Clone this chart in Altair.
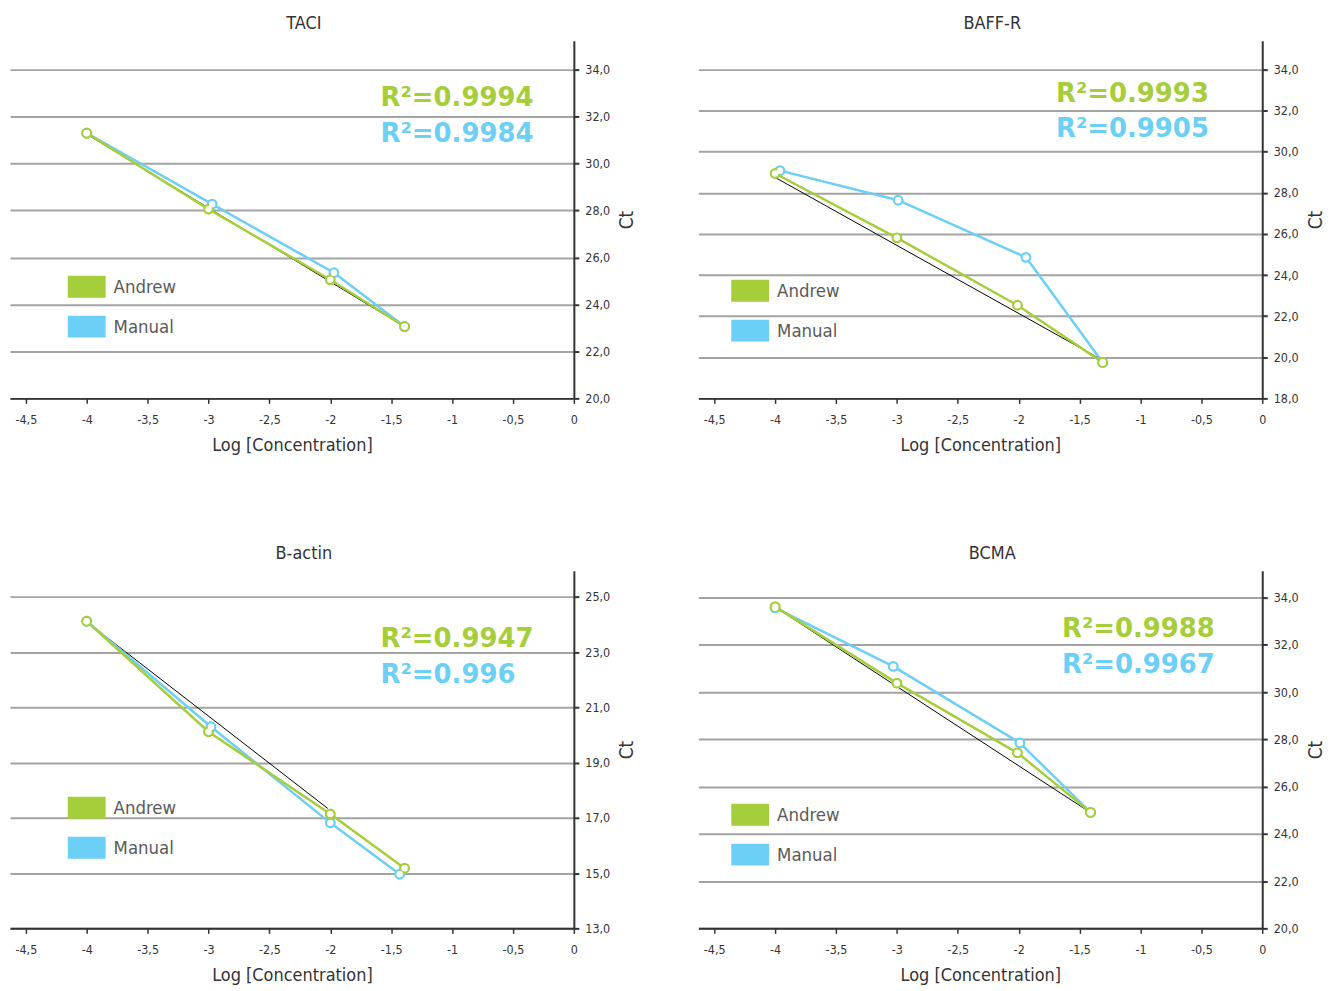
import altair as alt
import pandas as pd

GREEN = "#a6cd3a"
BLUE = "#6ccff6"
FONT = "DejaVu Sans Condensed, sans-serif"
R2FONT = "DejaVu Sans"

series_names = ["Andrew", "Manual"]
x_ticks = [-4.5, -4, -3.5, -3, -2.5, -2, -1.5, -1, -0.5, 0]

# ---- TACI ----
taci_andrew_x = [-4.0, -3.0, -2.0, -1.39]
taci_andrew_y = [31.29, 28.06, 25.05, 23.06]
taci_manual_x = [-4.0, -2.97, -1.97, -1.39]
taci_manual_y = [31.30, 28.27, 25.35, 23.06]
taci_fit_x = [-4.0, -1.39]
taci_fit_y = [31.25, 23.05]
taci_y_ticks = [20, 22, 24, 26, 28, 30, 32, 34]
taci_r2 = ["R²=0.9994", "R²=0.9984"]

# ---- BAFF-R ----
baff_andrew_x = [-4.0, -3.0, -2.01, -1.31]
baff_andrew_y = [28.94, 25.81, 22.53, 19.75]
baff_manual_x = [-3.96, -2.99, -1.94, -1.31]
baff_manual_y = [29.08, 27.64, 24.86, 19.75]
baff_fit_x = [-4.0, -1.31]
baff_fit_y = [28.75, 19.85]
baff_y_ticks = [18, 20, 22, 24, 26, 28, 30, 32, 34]
baff_r2 = ["R²=0.9993", "R²=0.9905"]

# ---- B-actin ----
bact_andrew_x = [-4.0, -3.0, -2.0, -1.39]
bact_andrew_y = [24.12, 20.12, 17.14, 15.18]
bact_manual_x = [-4.0, -2.98, -2.0, -1.43]
bact_manual_y = [24.12, 20.30, 16.82, 14.96]
bact_fit_x = [-4.0, -2.02]
bact_fit_y = [24.10, 17.34]
bact_y_ticks = [13, 15, 17, 19, 21, 23, 25]
bact_r2 = ["R²=0.9947", "R²=0.996"]

# ---- BCMA ----
bcma_andrew_x = [-4.0, -3.0, -2.01, -1.41]
bcma_andrew_y = [33.62, 30.38, 27.43, 24.91]
bcma_manual_x = [-4.0, -3.03, -1.99, -1.41]
bcma_manual_y = [33.57, 31.09, 27.85, 24.91]
bcma_fit_x = [-4.0, -1.41]
bcma_fit_y = [33.60, 24.90]
bcma_y_ticks = [20, 22, 24, 26, 28, 30, 32, 34]
bcma_r2 = ["R²=0.9988", "R²=0.9967"]

PLOT_W = 566
PLOT_H = 359
SWATCH = "M-1.727,-1H1.727V1H-1.727Z"


def panel(title, ax, ay, mx, my, fx, fy, ydom, yticks, r2, text_xy, leg_xy):
    pts = pd.DataFrame({
        "x": list(mx) + list(ax),
        "y": list(my) + list(ay),
        "series": ["Manual"] * len(mx) + ["Andrew"] * len(ax),
    })
    fit = pd.DataFrame({"x": fx, "y": fy})
    xs = alt.Scale(domain=[-4.63, 0], nice=False, zero=False)
    ys = alt.Scale(domain=ydom, nice=False, zero=False)
    xenc = alt.X("x:Q", scale=xs, axis=alt.Axis(
        title="Log [Concentration]", values=x_ticks,
        labelExpr="replace(toString(datum.value), '.', ',')",
        grid=False, domainColor="#333333", domainWidth=2, tickColor="#333333",
        tickWidth=1.5, tickSize=5, labelFont=FONT, labelFontSize=12.5,
        labelColor="#333333", titleFont=FONT, titleFontSize=18,
        titleFontWeight="normal", titleColor="#333333", titlePadding=11,
        labelPadding=10, labelFlush=False))
    yenc = alt.Y("y:Q", scale=ys, axis=alt.Axis(
        title="Ct", orient="right", values=yticks,
        labelExpr="replace(format(datum.value, '.1f'), '.', ',')",
        grid=True, gridColor="#a3a3a3", gridWidth=2,
        domainColor="#333333", domainWidth=2, tickColor="#333333",
        tickWidth=2, tickSize=5, labelFont=FONT, labelFontSize=12.5,
        labelColor="#333333", titleFont=FONT, titleFontSize=19,
        titleFontWeight="normal", titleColor="#333333", titleAngle=270,
        titleBaseline="top", titlePadding=8, labelPadding=6, labelFlush=False))

    base = alt.Chart(pts)
    fit_line = alt.Chart(fit).mark_line(color="black", strokeWidth=1).encode(
        x=alt.X("x:Q", scale=xs), y=alt.Y("y:Q", scale=ys))
    man_line = base.transform_filter("datum.series == 'Manual'").mark_line(
        color=BLUE, strokeWidth=2.5).encode(x=xenc, y=yenc)
    and_line = base.transform_filter("datum.series == 'Andrew'").mark_line(
        color=GREEN, strokeWidth=2.5).encode(x=alt.X("x:Q", scale=xs), y=alt.Y("y:Q", scale=ys))
    outer = base.mark_circle(size=120, opacity=1).encode(
        x=alt.X("x:Q", scale=xs), y=alt.Y("y:Q", scale=ys),
        color=alt.Color("series:N",
                        scale=alt.Scale(domain=series_names, range=[GREEN, BLUE]),
                        legend=alt.Legend(
                            title=None, orient="none",
                            legendX=leg_xy[0], legendY=leg_xy[1],
                            symbolType=SWATCH, symbolSize=484,
                            symbolStrokeWidth=0, symbolOpacity=1,
                            labelFont=FONT, labelFontSize=18.5,
                            labelColor="#5a5a5a", labelOffset=16,
                            rowPadding=18, padding=0)))
    inner = base.mark_circle(size=42, opacity=1, color="white").encode(
        x=alt.X("x:Q", scale=xs), y=alt.Y("y:Q", scale=ys))
    t1 = alt.Chart(pd.DataFrame({"t": [r2[0]]})).mark_text(
        align="left", baseline="middle", font=R2FONT, fontSize=26,
        fontWeight="bold", color=GREEN).encode(
        text="t:N", x=alt.value(text_xy[0]), y=alt.value(text_xy[1]))
    t2 = alt.Chart(pd.DataFrame({"t": [r2[1]]})).mark_text(
        align="left", baseline="middle", font=R2FONT, fontSize=26,
        fontWeight="bold", color=BLUE).encode(
        text="t:N", x=alt.value(text_xy[0]), y=alt.value(text_xy[1] + 36))
    return alt.layer(fit_line, man_line, and_line, outer, inner, t1, t2).properties(
        width=PLOT_W, height=PLOT_H,
        view=alt.ViewBackground(stroke="transparent", strokeWidth=0),
        title=alt.TitleParams(title, font=FONT, fontSize=18, fontWeight="normal",
                              color="#333333", frame="group", anchor="middle",
                              dx=12, offset=8))


p1 = panel("TACI", taci_andrew_x, taci_andrew_y, taci_manual_x, taci_manual_y,
           taci_fit_x, taci_fit_y, [20, 35.23], taci_y_ticks, taci_r2,
           (372, 58), (66, 236))
p2 = panel("BAFF-R", baff_andrew_x, baff_andrew_y, baff_manual_x, baff_manual_y,
           baff_fit_x, baff_fit_y, [18, 35.4], baff_y_ticks, baff_r2,
           (359, 53), (41, 240))
p3 = panel("B-actin", bact_andrew_x, bact_andrew_y, bact_manual_x, bact_manual_y,
           bact_fit_x, bact_fit_y, [13, 25.95], bact_y_ticks, bact_r2,
           (372, 69), (66, 227))
p4 = panel("BCMA", bcma_andrew_x, bcma_andrew_y, bcma_manual_x, bcma_manual_y,
           bcma_fit_x, bcma_fit_y, [20, 35.14], bcma_y_ticks, bcma_r2,
           (365, 59), (41, 234))

row1 = alt.hconcat(p1, p2, spacing=61).resolve_scale(
    color="independent", x="independent", y="independent").resolve_legend(color="independent")
row2 = alt.hconcat(p3, p4, spacing=61).resolve_scale(
    color="independent", x="independent", y="independent").resolve_legend(color="independent")
chart = alt.vconcat(row1, row2, spacing=90).resolve_scale(
    color="independent", x="independent", y="independent").resolve_legend(
    color="independent").properties(
    padding={"left": 2, "top": 5, "right": 0, "bottom": 0}
).configure_view(strokeWidth=0, stroke="transparent").configure(background="white")

chart.save("out.html", embed_options={"renderer": "svg", "actions": False})
